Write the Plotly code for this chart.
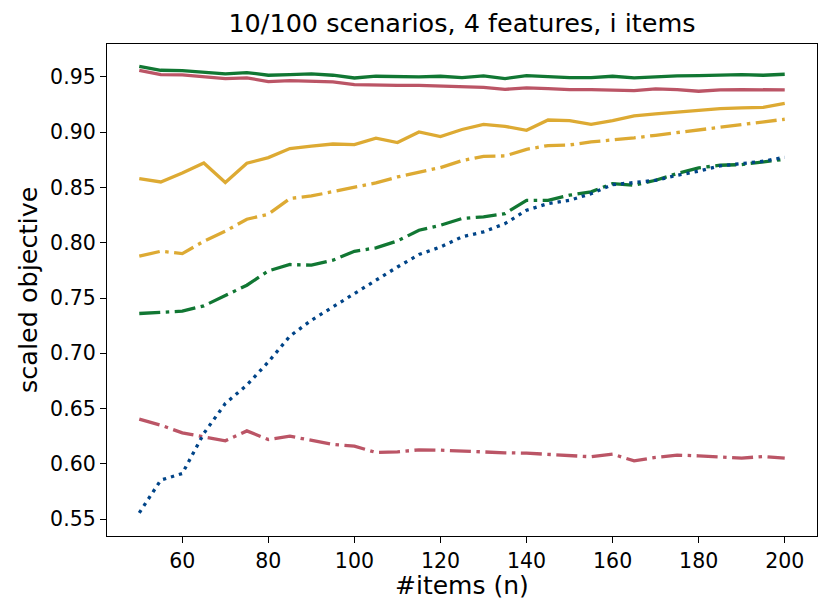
import plotly.graph_objects as go

n_items = [50, 55, 60, 65, 70, 75, 80, 85, 90, 95, 100, 105, 110, 115, 120, 125,
           130, 135, 140, 145, 150, 155, 160, 165, 170, 175, 180, 185, 190, 195, 200]

green_solid = [0.9596, 0.9560, 0.9557, 0.9542, 0.9527, 0.9539, 0.9515, 0.9521, 0.9527, 0.9515,
               0.9490, 0.9506, 0.9500, 0.9500, 0.9506, 0.9494, 0.9509, 0.9485, 0.9512, 0.9503,
               0.9494, 0.9494, 0.9506, 0.9491, 0.9503, 0.9509, 0.9512, 0.9515, 0.9521, 0.9515, 0.9524]

red_solid = [0.9560, 0.9521, 0.9518, 0.9503, 0.9485, 0.9491, 0.9458, 0.9467, 0.9464, 0.9455,
             0.9430, 0.9424, 0.9424, 0.9424, 0.9418, 0.9412, 0.9406, 0.9388, 0.9400, 0.9394,
             0.9385, 0.9385, 0.9379, 0.9376, 0.9391, 0.9385, 0.9370, 0.9382, 0.9385, 0.9382, 0.9382]

yellow_solid = [0.8580, 0.8550, 0.8631, 0.8722, 0.8544, 0.8719, 0.8770, 0.8852, 0.8873, 0.8893,
                0.8888, 0.8945, 0.8906, 0.9002, 0.8960, 0.9024, 0.9071, 0.9053, 0.9017, 0.9110,
                0.9105, 0.9071, 0.9105, 0.9147, 0.9165, 0.9180, 0.9195, 0.9213, 0.9219, 0.9225, 0.9261]

yellow_dashdot = [0.7878, 0.7923, 0.7902, 0.8014, 0.8104, 0.8213, 0.8258, 0.8400, 0.8423, 0.8460,
                  0.8499, 0.8541, 0.8595, 0.8635, 0.8680, 0.8743, 0.8782, 0.8785, 0.8845, 0.8879,
                  0.8885, 0.8912, 0.8927, 0.8948, 0.8972, 0.8996, 0.9020, 0.9041, 0.9065, 0.9087, 0.9117]

green_dashdot = [0.7360, 0.7374, 0.7381, 0.7429, 0.7525, 0.7616, 0.7745, 0.7803, 0.7797, 0.7842,
                 0.7923, 0.7953, 0.8016, 0.8113, 0.8158, 0.8219, 0.8234, 0.8264, 0.8384, 0.8384,
                 0.8430, 0.8460, 0.8535, 0.8520, 0.8565, 0.8626, 0.8677, 0.8701, 0.8707, 0.8731, 0.8755]

blue_dotted = [0.5557, 0.5853, 0.5913, 0.6275, 0.6546, 0.6712, 0.6922, 0.7155, 0.7299, 0.7420,
               0.7541, 0.7655, 0.7781, 0.7893, 0.7962, 0.8053, 0.8098, 0.8173, 0.8294, 0.8354,
               0.8384, 0.8444, 0.8526, 0.8544, 0.8565, 0.8610, 0.8647, 0.8695, 0.8716, 0.8737, 0.8773]

red_dashdot = [0.6404, 0.6350, 0.6280, 0.6244, 0.6208, 0.6298, 0.6220, 0.6250, 0.6214, 0.6175,
               0.6160, 0.6103, 0.6109, 0.6127, 0.6124, 0.6115, 0.6106, 0.6100, 0.6097, 0.6088,
               0.6076, 0.6064, 0.6088, 0.6027, 0.6058, 0.6079, 0.6073, 0.6061, 0.6052, 0.6067, 0.6052]

x_ticks = [60, 80, 100, 120, 140, 160, 180, 200]
y_ticks = [0.55, 0.60, 0.65, 0.70, 0.75, 0.80, 0.85, 0.90, 0.95]

GREEN = "#117733"
RED = "#BB5566"
YELLOW = "#DDAA33"
BLUE = "#004488"
LW = 3.3
DASHDOT = "21px,5.5px,3.5px,5.5px"
DOTTED = "3.3px,5px"

series = [
    (green_solid, GREEN, "solid"),
    (red_solid, RED, "solid"),
    (yellow_solid, YELLOW, "solid"),
    (yellow_dashdot, YELLOW, DASHDOT),
    (green_dashdot, GREEN, DASHDOT),
    (red_dashdot, RED, DASHDOT),
    (blue_dotted, BLUE, DOTTED),
]

fig = go.Figure()
for vals, col, dash in series:
    fig.add_trace(go.Scatter(x=n_items, y=vals, mode="lines",
                             line=dict(color=col, width=LW, dash=dash),
                             showlegend=False, hoverinfo="skip"))

FONT = "DejaVu Sans"
axis_common = dict(showline=True, linecolor="black", linewidth=1.3, mirror=True,
                   ticks="outside", ticklen=6, tickwidth=1.3, tickcolor="black",
                   showgrid=False, zeroline=False, automargin=False,
                   tickfont=dict(family=FONT, size=20.5, color="black"))

# page has an 8px body margin, so the figure is sized/offset to compensate
OFF = 8
W, H = 830 - OFF, 616 - OFF
ML, MR, MT, MB = 99, 13, 36, 80

fig.update_layout(
    width=W, height=H,
    paper_bgcolor="white", plot_bgcolor="white",
    margin=dict(l=ML, r=MR, t=MT, b=MB),
    title=dict(text="10/100 scenarios, 4 features, i items", x=0.5, xanchor="center",
               xref="paper", y=1 - (23 - OFF) / H, yanchor="middle",
               font=dict(family=FONT, size=25.5, color="black")),
    xaxis=dict(range=[42.5, 207.5], tickvals=x_ticks, **axis_common),
    yaxis=dict(range=[0.53475, 0.97975], tickvals=y_ticks, tickformat=".2f", **axis_common),
    annotations=[
        dict(text="#items (n)", xref="paper", yref="paper", x=0.5, xanchor="center",
             y=-(585 - OFF - (H - MB)) / (H - MT - MB), yanchor="middle", showarrow=False,
             font=dict(family=FONT, size=25, color="black")),
        dict(text="scaled objective", xref="paper", yref="paper",
             x=-(ML - (28 - OFF)) / (W - ML - MR), xanchor="center",
             y=0.5, yanchor="middle", textangle=-90, showarrow=False,
             font=dict(family=FONT, size=25.5, color="black")),
    ],
)

fig.write_html("out.html")
